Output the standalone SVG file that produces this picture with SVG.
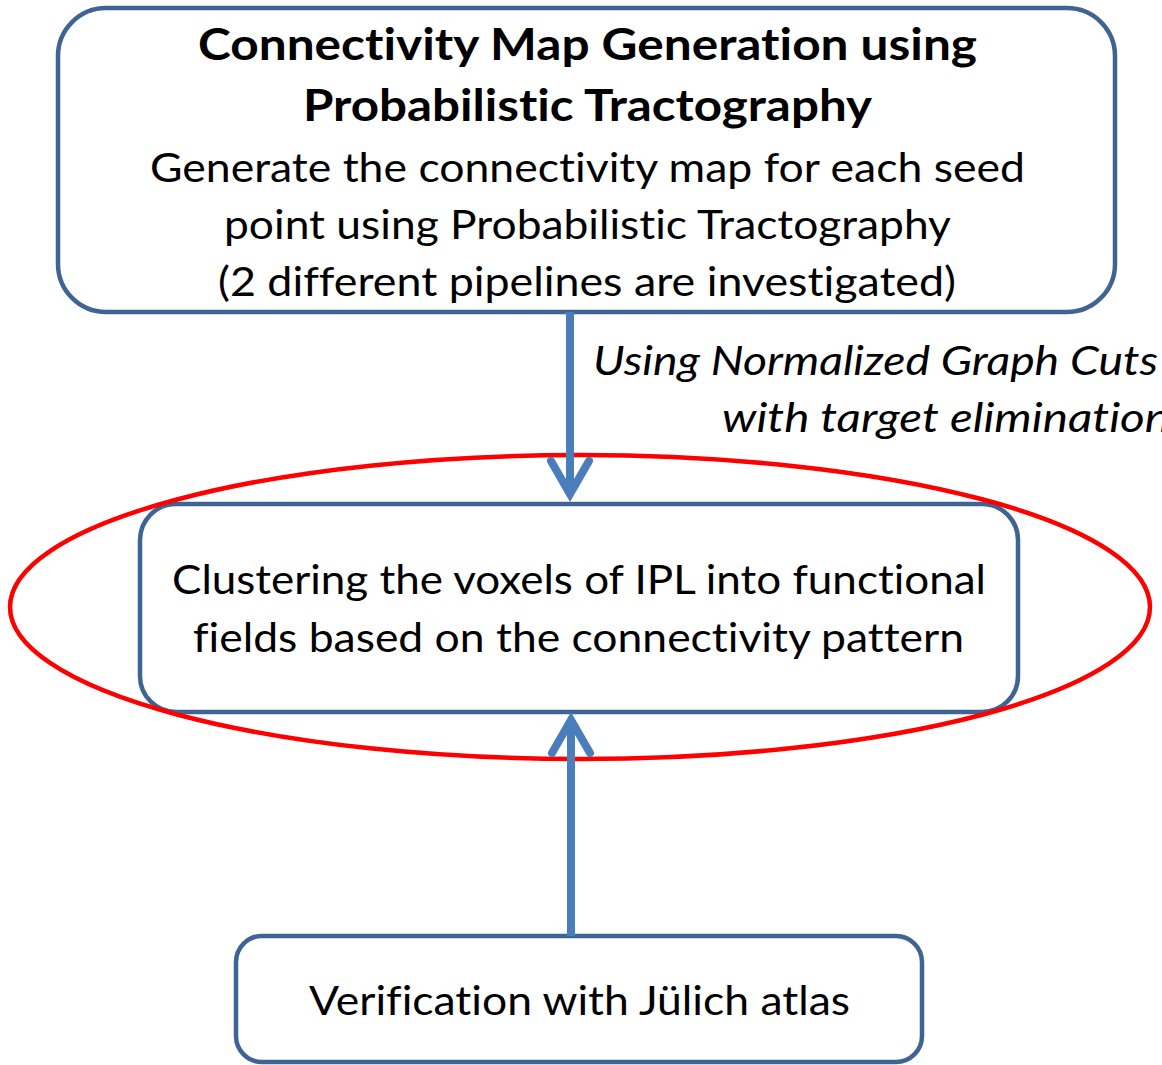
<svg xmlns="http://www.w3.org/2000/svg" width="1162" height="1065" viewBox="0 0 1162 1065">
<style>
.box{fill:#fff;stroke:#3f6493;stroke-width:4.5}
.t{font-family:Lato,"Open Sans","Liberation Sans",sans-serif;font-size:40px;fill:#000;font-variant-ligatures:none;font-feature-settings:"liga" 0,"dlig" 0}
.b{font-weight:bold;font-size:43px}
.i{font-style:italic}
.arr{fill:none;stroke:#4a7ebb;stroke-width:8}
.head{fill:none;stroke:#4a7ebb;stroke-width:8;stroke-linecap:round;stroke-linejoin:miter;stroke-miterlimit:10}
</style>
<rect width="1162" height="1065" fill="#fff"/>
<g id="node-top">
<rect class="box" x="58" y="8" width="1057" height="304" rx="48" ry="48"/>
<text class="t b" x="198" y="60" textLength="779" lengthAdjust="spacingAndGlyphs">Connectivity Map Generation using</text>
<text class="t b" x="303" y="121" textLength="569" lengthAdjust="spacingAndGlyphs">Probabilistic Tractography</text>
<text class="t" x="150" y="182" textLength="875" lengthAdjust="spacingAndGlyphs">Generate the connectivity map for each seed</text>
<text class="t" x="224" y="239" textLength="727" lengthAdjust="spacingAndGlyphs">point using Probabilistic Tractography</text>
<text class="t" x="218" y="296" textLength="738" lengthAdjust="spacingAndGlyphs">(2 different pipelines are investigated)</text>
</g>
<g id="node-cluster">
<rect class="box" x="140" y="504" width="878" height="208" rx="36" ry="36"/>
<text class="t" x="172" y="594" textLength="814" lengthAdjust="spacingAndGlyphs">Clustering the voxels of IPL into functional</text>
<text class="t" x="193" y="652" textLength="771" lengthAdjust="spacingAndGlyphs">fields based on the connectivity pattern</text>
</g>
<g id="highlight">
<ellipse cx="580" cy="607" rx="570" ry="152" fill="none" stroke="#ff0000" stroke-width="4.5"/>
</g>
<g id="node-verify">
<rect class="box" x="236" y="936" width="686" height="126" rx="26" ry="26"/>
<text class="t" x="309" y="1015" textLength="541" lengthAdjust="spacingAndGlyphs">Verification with Jülich atlas</text>
</g>
<g id="connectors">
<line class="arr" x1="570" y1="312" x2="570" y2="492"/>
<polyline class="head" points="551,461 570,494 589,461"/>
<line class="arr" x1="571" y1="936" x2="571" y2="722"/>
<polyline class="head" points="552,753 571,720 590,753"/>
<text class="t i" x="593" y="375" textLength="565" lengthAdjust="spacingAndGlyphs">Using Normalized Graph Cuts</text>
<text class="t i" x="722" y="432" textLength="448" lengthAdjust="spacingAndGlyphs">with target elimination</text>
</g>
</svg>
